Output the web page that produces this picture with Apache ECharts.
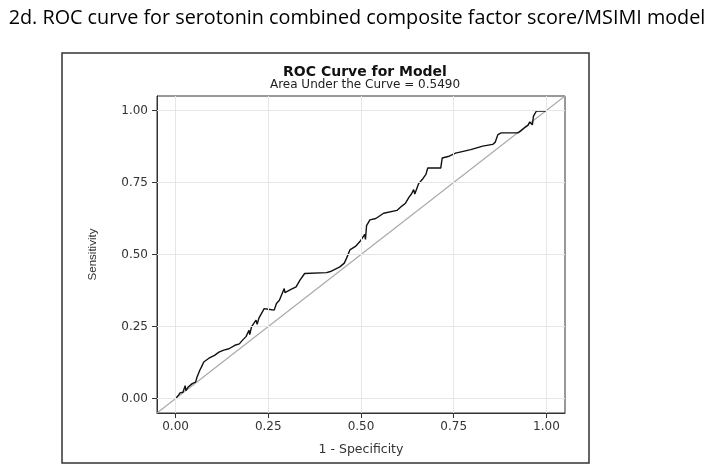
<!DOCTYPE html>
<html>
<head>
<meta charset="utf-8">
<script src="https://cdn.jsdelivr.net/npm/echarts@6/dist/echarts.min.js"></script>
<style>
  html, body { margin: 0; padding: 0; background: #fff; }
  #chart { width: 714px; height: 470px; }
</style>
</head>
<body>
<div id="chart"></div>
<script>
// ---- data ----
const pageTitle = '2d. ROC curve for serotonin combined composite factor score/MSIMI model';
const chartTitle = 'ROC Curve for Model';
const chartSubtitle = 'Area Under the Curve = 0.5490';
const xAxisName = '1 - Specificity';
const yAxisName = 'Sensitivity';
const tickValues = [0, 0.25, 0.5, 0.75, 1];
const tickLabels = ['0.00', '0.25', '0.50', '0.75', '1.00'];

// 1 - specificity (false positive rate)
const fpr = [0, 0.008, 0.012, 0.02, 0.026, 0.028, 0.034, 0.045, 0.054, 0.058, 0.062, 0.066, 0.07, 0.076,
  0.09, 0.105, 0.117, 0.13, 0.144, 0.16, 0.172, 0.18, 0.19, 0.198, 0.2, 0.205, 0.217, 0.22, 0.225, 0.239, 0.25,
  0.266, 0.272, 0.28, 0.293, 0.295, 0.31, 0.325, 0.335, 0.34, 0.348, 0.407, 0.42, 0.443, 0.455, 0.462, 0.47,
  0.485, 0.497, 0.51, 0.512, 0.515, 0.524, 0.54, 0.561, 0.597, 0.61, 0.62, 0.63, 0.636, 0.642, 0.645, 0.655, 0.665,
  0.675, 0.68, 0.688, 0.715, 0.719, 0.735, 0.755, 0.796, 0.828, 0.855, 0.862, 0.866, 0.869, 0.878,
  0.923, 0.93, 0.941, 0.95, 0.955, 0.959, 0.962, 0.965, 0.973, 0.995, 1];
// sensitivity (true positive rate)
const tpr = [0, 0.012, 0.02, 0.022, 0.045, 0.028, 0.04, 0.052, 0.057, 0.075, 0.069, 0.1, 0.11, 0.127,
  0.14, 0.15, 0.161, 0.168, 0.173, 0.185, 0.19, 0.202, 0.215, 0.237, 0.222, 0.25, 0.272, 0.258, 0.28, 0.312, 0.31,
  0.307, 0.33, 0.341, 0.382, 0.368, 0.378, 0.388, 0.41, 0.415, 0.434, 0.437, 0.442, 0.457, 0.47, 0.49, 0.516,
  0.528, 0.545, 0.57, 0.552, 0.6, 0.62, 0.625, 0.643, 0.653, 0.668, 0.678, 0.7, 0.71, 0.725, 0.71, 0.745, 0.76,
  0.778, 0.8, 0.8, 0.8, 0.835, 0.84, 0.852, 0.864, 0.876, 0.882, 0.89, 0.905, 0.916, 0.922,
  0.922, 0.928, 0.94, 0.948, 0.96, 0.963, 0.95, 0.98, 0.998, 0.998, 1];

const diagonal = [[-0.05, -0.05], [1.05, 1.05]];

const rocData = fpr.map((x, i) => [x, tpr[i]]);

const chart = echarts.init(document.getElementById('chart'), null, { renderer: 'canvas' });

const gridMarkX = tickValues.map(v => ({ xAxis: v }));
const gridMarkY = tickValues.map(v => ({ yAxis: v }));

const FONT = 'DejaVu Sans, Verdana, sans-serif';
const axisLabelCommon = { color: '#333', fontFamily: FONT, fontSize: 12 };
const fmt = v => tickLabels[tickValues.indexOf(+(+v).toFixed(2))] || (+v).toFixed(2);

chart.setOption({
  animation: false,
  backgroundColor: '#fff',
  title: [
    {
      text: pageTitle,
      left: 'center',
      top: 3,
      textStyle: { fontFamily: 'Open Sans, sans-serif', fontWeight: 'normal', fontSize: 19.8, color: '#000' }
    },
    {
      text: chartTitle,
      subtext: chartSubtitle,
      left: 360,
      textAlign: 'center',
      top: 60,
      itemGap: 0,
      textStyle: { fontFamily: FONT, fontWeight: 'bold', fontSize: 14, color: '#111' },
      subtextStyle: { fontFamily: FONT, fontSize: 12, color: '#222' }
    }
  ],
  graphic: [
    {
      type: 'rect',
      shape: { x: 62, y: 53, width: 527, height: 410 },
      style: { fill: 'none', stroke: '#333', lineWidth: 1.5 },
      silent: true
    }
  ],
  grid: {
    left: 157, top: 96, width: 408, height: 317,
    show: true, borderColor: '#333', borderWidth: 1, backgroundColor: 'transparent'
  },
  xAxis: {
    type: 'value', min: -0.05, max: 1.05,
    name: xAxisName, nameLocation: 'middle', nameGap: 30,
    nameTextStyle: { color: '#333', fontFamily: FONT, fontSize: 12.5 },
    axisLine: { show: true, onZero: false, lineStyle: { color: '#333' } },
    axisTick: { show: true, customValues: tickValues, length: 5, lineStyle: { color: '#333' } },
    axisLabel: Object.assign({ customValues: tickValues, margin: 8, formatter: fmt }, axisLabelCommon),
    splitLine: { show: false }
  },
  yAxis: {
    type: 'value', min: -0.05, max: 1.05,
    name: yAxisName, nameLocation: 'middle', nameGap: 58, nameRotate: 90,
    nameTextStyle: { color: '#333', fontFamily: 'Liberation Sans, Arial, sans-serif', fontSize: 11.5 },
    axisLine: { show: true, onZero: false, lineStyle: { color: '#333' } },
    axisTick: { show: true, customValues: tickValues, length: 5, lineStyle: { color: '#333' } },
    axisLabel: Object.assign({ customValues: tickValues, margin: 9, formatter: fmt }, axisLabelCommon),
    splitLine: { show: false }
  },
  series: [
    {
      type: 'line',
      name: 'grid',
      data: [],
      silent: true,
      markLine: {
        silent: true, symbol: 'none', label: { show: false },
        lineStyle: { color: '#e6e6e6', type: 'solid', width: 1 },
        data: gridMarkX.concat(gridMarkY)
      }
    },
    {
      type: 'line',
      name: 'chance',
      data: diagonal,
      showSymbol: false,
      silent: true,
      lineStyle: { color: '#aaaaaa', width: 1.2 }
    },
    {
      type: 'line',
      name: 'ROC',
      data: rocData,
      showSymbol: false,
      silent: true,
      lineStyle: { color: '#111', width: 1.4 }
    }
  ]
});
</script>
</body>
</html>
